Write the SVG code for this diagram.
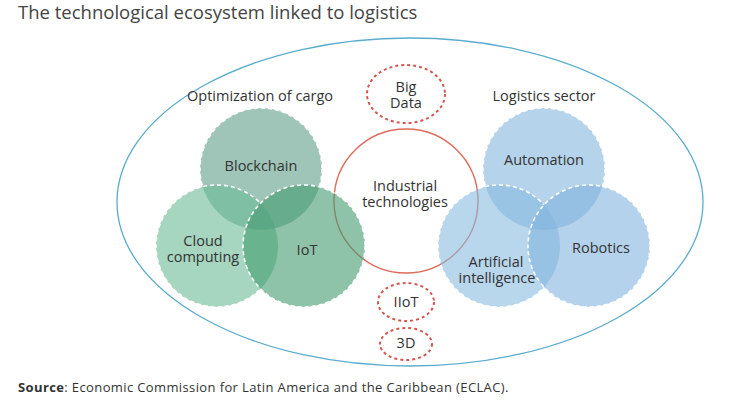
<svg xmlns="http://www.w3.org/2000/svg" width="741" height="415" viewBox="0 0 741 415">
<style>
text{font-family:"Open Sans","Noto Sans","Liberation Sans",sans-serif;fill:#333;}
.lbl{font-size:14.5px;text-anchor:middle;}
.title{font-size:18.5px;fill:#444;}
.src{font-size:13px;fill:#333;letter-spacing:0.38px;}
.g{fill-opacity:0.6;stroke:none;}
.ws{fill:none;stroke:#fff;stroke-width:1.6;stroke-dasharray:4 3;}
.rd{fill:none;stroke:#d4574f;stroke-width:2;stroke-dasharray:3 3;}
</style>
<defs>
<mask id="mB" maskUnits="userSpaceOnUse" x="0" y="0" width="741" height="415">
<rect width="741" height="415" fill="#fff"/>
<circle cx="217" cy="246" r="61" fill="#000"/>
<circle cx="304" cy="246" r="61" fill="#000"/>
</mask>
<mask id="mC" maskUnits="userSpaceOnUse" x="0" y="0" width="741" height="415">
<rect width="741" height="415" fill="#fff"/>
<circle cx="304" cy="246" r="61" fill="#000"/>
</mask>
<mask id="mA" maskUnits="userSpaceOnUse" x="0" y="0" width="741" height="415">
<rect width="741" height="415" fill="#fff"/>
<circle cx="499" cy="246" r="61" fill="#000"/>
<circle cx="589" cy="246" r="61" fill="#000"/>
</mask>
<mask id="mI" maskUnits="userSpaceOnUse" x="0" y="0" width="741" height="415">
<rect width="741" height="415" fill="#fff"/>
<circle cx="589" cy="246" r="61" fill="#000"/>
</mask>
</defs>
<rect width="741" height="415" fill="#fff"/>
<text class="title" x="18" y="19">The technological ecosystem linked to logistics</text>

<g id="ecosystem">
<ellipse cx="410" cy="202" rx="293" ry="164" fill="none" stroke="#5aaccc" stroke-width="1.3"/>
</g>

<g id="industrial">
<circle cx="406" cy="201" r="72" fill="none" stroke="#df6b5c" stroke-width="1.4"/>
<text class="lbl" x="405" y="191">Industrial</text>
<text class="lbl" x="405" y="207">technologies</text>
</g>

<g id="bigdata">
<ellipse class="rd" cx="406" cy="94" rx="39" ry="29"/>
<text class="lbl" x="406" y="92">Big</text>
<text class="lbl" x="406" y="108">Data</text>
</g>
<g id="iiot">
<ellipse class="rd" cx="406" cy="302" rx="28" ry="19"/>
<text class="lbl" x="406" y="307">IIoT</text>
</g>
<g id="threed">
<ellipse class="rd" cx="406" cy="344" rx="26" ry="16"/>
<text class="lbl" x="406" y="348">3D</text>
</g>

<g id="cargo">
<text class="lbl" x="260" y="101">Optimization of cargo</text>
<circle class="g" cx="261" cy="169" r="61" fill="#5f9e89"/>
<circle class="g" cx="217" cy="246" r="61" fill="#6bbb94"/>
<circle class="g" cx="304" cy="246" r="61" fill="#439b70"/>
<circle class="ws" cx="261" cy="169" r="61" mask="url(#mB)"/>
<circle class="ws" cx="217" cy="246" r="61" mask="url(#mC)"/>
<circle class="ws" cx="304" cy="246" r="61"/>
</g>
<g id="blockchain"><text class="lbl" x="261" y="171">Blockchain</text></g>
<g id="cloud">
<text class="lbl" x="203" y="246">Cloud</text>
<text class="lbl" x="203" y="262">computing</text>
</g>
<g id="iot"><text class="lbl" x="307" y="255">IoT</text></g>

<g id="logistics">
<text class="lbl" x="544" y="101">Logistics sector</text>
<circle class="g" cx="544" cy="169" r="61" fill="#84b6dc"/>
<circle class="g" cx="499" cy="246" r="61" fill="#89badf"/>
<circle class="g" cx="589" cy="246" r="61" fill="#82b4dd"/>
<circle class="ws" cx="544" cy="169" r="61" mask="url(#mA)"/>
<circle class="ws" cx="499" cy="246" r="61" mask="url(#mI)"/>
<circle class="ws" cx="589" cy="246" r="61"/>
</g>
<g id="automation"><text class="lbl" x="544" y="165">Automation</text></g>
<g id="robotics"><text class="lbl" x="601" y="253">Robotics</text></g>
<g id="ai">
<text class="lbl" x="496" y="267">Artificial</text>
<text class="lbl" x="497" y="283">intelligence</text>
</g>

<g id="connectors"></g>

<text class="src" x="18" y="392"><tspan font-weight="bold">Source</tspan>: Economic Commission for Latin America and the Caribbean (ECLAC).</text>
</svg>
